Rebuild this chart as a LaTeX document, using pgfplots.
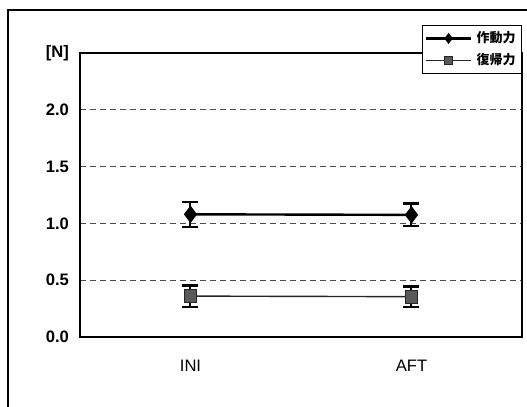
\documentclass[border=0pt]{standalone}
\usepackage{pgfplots}
\pgfplotsset{compat=1.18}
\usepackage{fontspec}
\setmainfont{Liberation Sans}
\newfontfamily\jp{Noto Sans CJK JP}
\begin{document}
\begin{tikzpicture}
\path[use as bounding box] (0,0) rectangle (263.5pt,203.5pt);
\draw[line width=0.9pt] (4pt,0) -- (4pt,198.5pt) -- (263.5pt,198.5pt);
\begin{axis}[
  at={(40pt,35pt)}, anchor=south west,
  scale only axis, width=221pt, height=142pt,
  xmin=0.5, xmax=2.5, ymin=0, ymax=2.5,
  xtick={1,2}, xticklabels={INI,AFT},
  ytick={0,0.5,1,1.5,2,2.5},
  yticklabels={\textbf{0.0},\textbf{0.5},\textbf{1.0},\textbf{1.5},\textbf{2.0},\textbf{[N]}},
  major tick length=0pt,
  tick label style={font=\fontsize{8.3}{9}\selectfont},
  xticklabel style={yshift=-8pt},
  yticklabel style={xshift=-2pt},
  axis line style={black, line width=0.8pt},
  ymajorgrids, grid style={densely dashed, black!70, line width=0.5pt},
  clip=false,
  legend style={at={(0.774,1.099)}, anchor=north west, draw=black, line width=0.5pt,
    font=\jp\bfseries\fontsize{6.5}{7.5}\selectfont, inner sep=1pt, row sep=0pt,
    /tikz/every even column/.append style={column sep=2pt}},
  legend cell align=left,
  legend image code/.code={\draw[mark repeat=2,mark phase=2,mark size=1.8pt]
    plot coordinates {(0cm,0cm) (0.4cm,0cm) (0.8cm,0cm)};},
  /pgf/number format/assume math mode=true,
]
\addplot[black, line width=1.2pt, mark=diamond*, mark size=3.4pt,
  error bars/.cd, y dir=both, y explicit,
  error bar style={line width=1pt, black},
  error mark options={rotate=90, mark size=4pt, line width=1.2pt}]
  coordinates {(1,1.08) +- (0,0.11) (2,1.075) +- (0,0.10)};
\addlegendentry{作動力}
\addplot[black!85, line width=0.7pt, mark=square*, mark size=3.2pt,
  mark options={fill=black!65, draw=black!85, line width=0.5pt},
  error bars/.cd, y dir=both, y explicit,
  error bar style={line width=1pt, black},
  error mark options={rotate=90, mark size=4pt, line width=1.2pt}]
  coordinates {(1,0.36) +- (0,0.095) (2,0.355) +- (0,0.09)};
\addlegendentry{復帰力}
\end{axis}
\end{tikzpicture}
\end{document}
